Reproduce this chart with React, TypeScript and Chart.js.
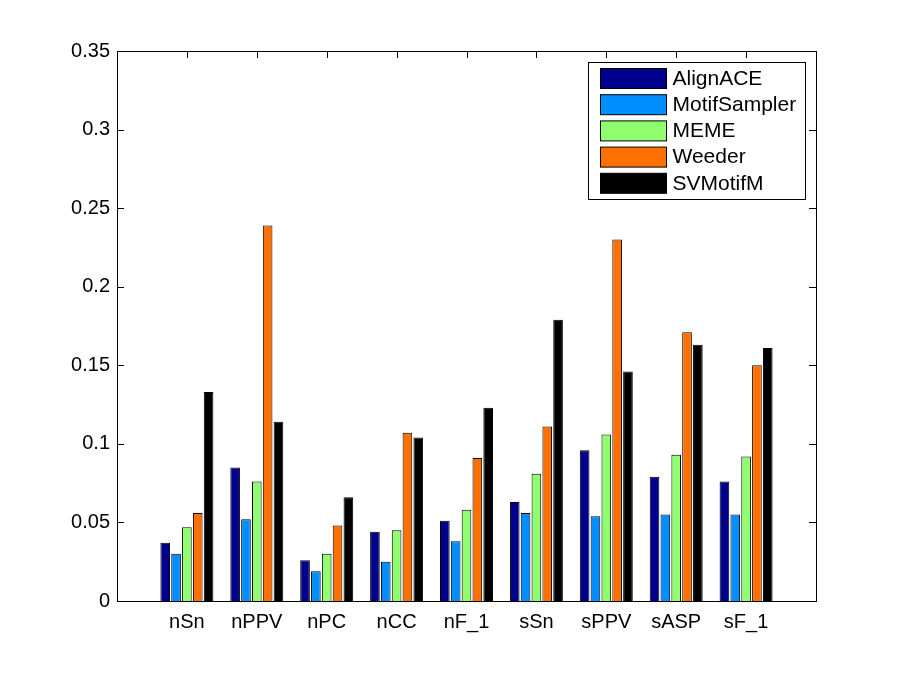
import { useEffect, useRef } from "react"
import { Chart, registerables, type Plugin } from "chart.js"

Chart.register(...registerables)

const categories = ["nSn", "nPPV", "nPC", "nCC", "nF_1", "sSn", "sPPV", "sASP", "sF_1"]
const alignAce = [0.037, 0.085, 0.026, 0.044, 0.051, 0.063, 0.096, 0.079, 0.076]
const motifSampler = [0.030, 0.052, 0.019, 0.025, 0.038, 0.056, 0.054, 0.055, 0.055]
const meme = [0.047, 0.076, 0.030, 0.045, 0.058, 0.081, 0.106, 0.093, 0.092]
const weeder = [0.056, 0.239, 0.048, 0.107, 0.091, 0.111, 0.230, 0.171, 0.150]
const svMotifM = [0.133, 0.114, 0.066, 0.104, 0.123, 0.179, 0.146, 0.163, 0.161]
const yTicks = [0, 0.05, 0.1, 0.15, 0.2, 0.25, 0.3, 0.35]
const yTickLabels = ["0", "0.05", "0.1", "0.15", "0.2", "0.25", "0.3", "0.35"]

const seriesNames = ["AlignACE", "MotifSampler", "MEME", "Weeder", "SVMotifM"]
const seriesColors = ["#00008f", "#008fff", "#8fff70", "#ff7000", "#000000"]
const seriesValues = [alignAce, motifSampler, meme, weeder, svMotifM]

const FONT = "Liberation Sans, Arial, Helvetica, sans-serif"
const TICK_LEN = 7

// matlab style box with inward ticks on all four sides
const axesBox: Plugin<"bar"> = {
  id: "axesBox",
  beforeDatasetsDraw(chart) {
    const { ctx, chartArea: a, scales } = chart
    ctx.save()
    ctx.strokeStyle = "#000"
    ctx.lineWidth = 1
    ctx.beginPath()
    for (const v of yTicks) {
      const y = Math.round(scales.y.getPixelForValue(v)) + 0.5
      ctx.moveTo(a.left, y)
      ctx.lineTo(a.left + TICK_LEN, y)
      ctx.moveTo(a.right, y)
      ctx.lineTo(a.right - TICK_LEN, y)
    }
    categories.forEach((_, i) => {
      const x = Math.round(scales.x.getPixelForValue(i + 1)) + 0.5
      ctx.moveTo(x, a.top)
      ctx.lineTo(x, a.top + TICK_LEN)
      ctx.moveTo(x, a.bottom)
      ctx.lineTo(x, a.bottom - TICK_LEN)
    })
    ctx.stroke()
    ctx.restore()
  },
  afterDatasetsDraw(chart) {
    const { ctx, chartArea: a } = chart
    ctx.save()
    ctx.strokeStyle = "#000"
    ctx.lineWidth = 1
    ctx.strokeRect(Math.round(a.left) + 0.5, Math.round(a.top) + 0.5, Math.round(a.right - a.left), Math.round(a.bottom - a.top))
    ctx.restore()
  },
}

// legend box in the top right corner of the plot
const boxLegend: Plugin<"bar"> = {
  id: "boxLegend",
  afterDraw(chart) {
    const { ctx, chartArea: a } = chart
    const w = 217
    const h = 137
    const left = Math.round(a.right - 11 - w) + 0.5
    const top = Math.round(a.top + 11) + 0.5
    ctx.save()
    ctx.fillStyle = "#fff"
    ctx.strokeStyle = "#000"
    ctx.lineWidth = 1
    ctx.fillRect(left, top, w, h)
    ctx.strokeRect(left, top, w, h)
    ctx.font = `21px ${FONT}`
    ctx.textBaseline = "middle"
    ctx.textAlign = "left"
    chart.data.datasets.forEach((ds, i) => {
      const sy = top + 6 + i * 26.2
      ctx.fillStyle = ds.backgroundColor as string
      ctx.fillRect(left + 12, sy, 66, 20)
      ctx.strokeRect(left + 12, sy, 66, 20)
      ctx.fillStyle = "#000"
      ctx.fillText(ds.label ?? "", left + 84, sy + 10.5)
    })
    ctx.restore()
  },
}

export default function App() {
  const canvasRef = useRef<HTMLCanvasElement>(null)
  const chartRef = useRef<Chart<"bar"> | null>(null)

  useEffect(() => {
    if (!canvasRef.current) return
    if (chartRef.current) chartRef.current.destroy()
    const ctx = canvasRef.current.getContext("2d")
    if (!ctx) return

    chartRef.current = new Chart(ctx, {
      type: "bar",
      data: {
        labels: ["", ...categories, ""],
        datasets: seriesNames.map((name, i) => ({
          label: name,
          data: [null, ...seriesValues[i], null],
          backgroundColor: seriesColors[i],
          borderColor: "#000",
          borderWidth: 1,
          categoryPercentage: 0.775,
          barPercentage: 0.89,
        })),
      },
      options: {
        responsive: true,
        maintainAspectRatio: false,
        animation: false,
        layout: { padding: { left: 0, top: 51, right: 83, bottom: 0 } },
        plugins: {
          legend: { display: false },
          tooltip: { enabled: false },
        },
        scales: {
          x: {
            type: "category",
            offset: false,
            grid: { display: false, drawTicks: false },
            border: { display: false },
            ticks: {
              autoSkip: false,
              maxRotation: 0,
              padding: 9,
              color: "#000",
              font: { family: FONT, size: 20 },
            },
            afterFit(scale) {
              scale.height = 75
            },
          },
          y: {
            min: 0,
            max: 0.35,
            grid: { display: false, drawTicks: false },
            border: { display: false },
            afterBuildTicks(scale) {
              scale.ticks = yTicks.map((v) => ({ value: v }))
            },
            ticks: {
              padding: 7,
              color: "#000",
              font: { family: FONT, size: 20 },
              callback: (_v, i) => yTickLabels[i],
            },
            afterFit(scale) {
              scale.width = 117
            },
          },
        },
      },
      plugins: [axesBox, boxLegend],
    })

    return () => {
      if (chartRef.current) {
        chartRef.current.destroy()
        chartRef.current = null
      }
    }
  }, [])

  return (
    <div style={{ position: "fixed", left: 0, top: 0, width: 899, height: 676, background: "#fff" }}>
      <canvas ref={canvasRef} />
    </div>
  )
}
